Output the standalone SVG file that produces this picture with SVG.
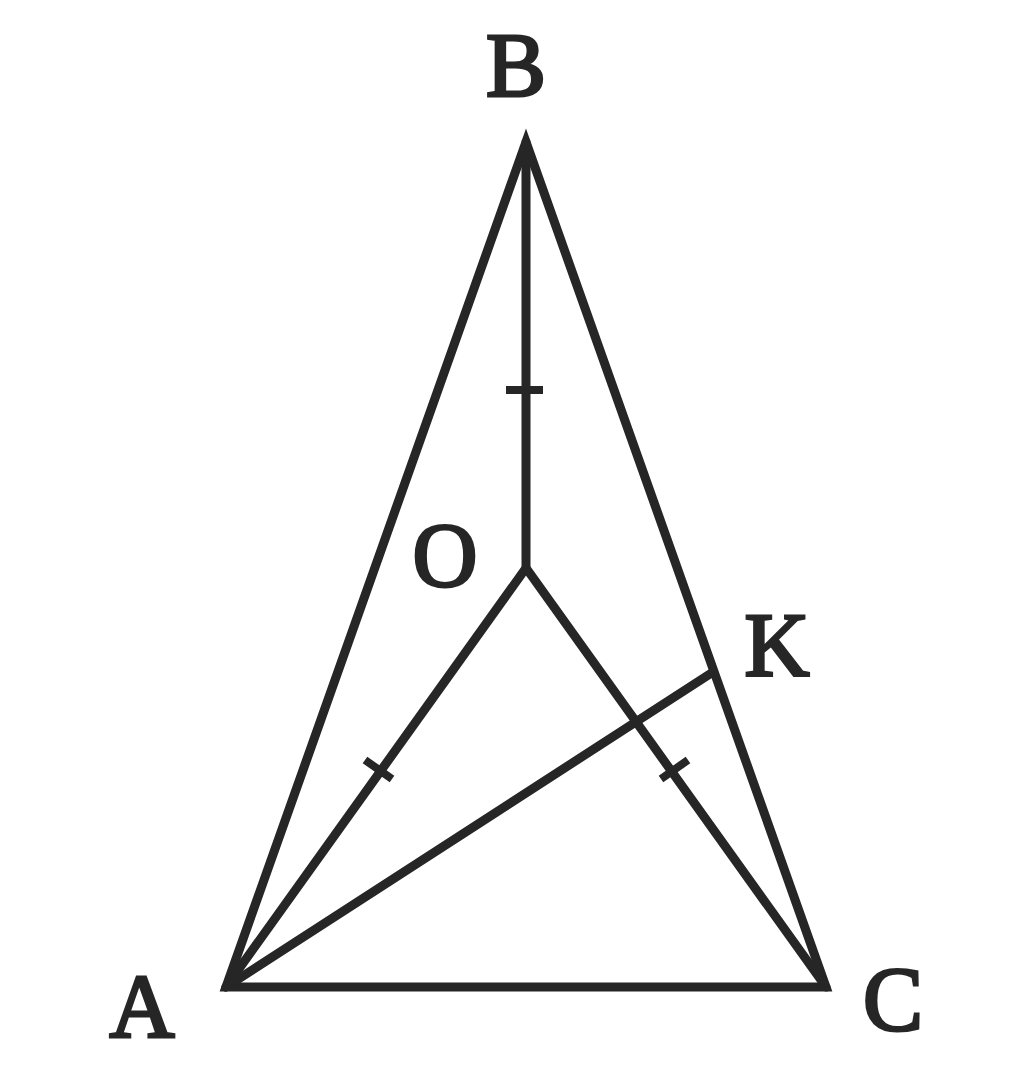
<svg xmlns="http://www.w3.org/2000/svg" width="1024" height="1085" viewBox="0 0 1024 1085">
<style>
.ln{stroke:#262626;stroke-width:9;fill:none;stroke-linejoin:miter;stroke-linecap:round}
.tk{stroke:#262626;stroke-width:8;fill:none;stroke-linecap:butt}
.lb{font-family:"Liberation Serif","Times New Roman",serif;font-size:90px;fill:#262626;text-anchor:middle;stroke:#262626;stroke-width:3}
</style>
<rect width="1024" height="1085" fill="#ffffff"/>
<g id="connectors">
<polygon class="ln" points="226,987 526,142 826,987" stroke-miterlimit="20"/>
<line class="ln" x1="526" y1="142" x2="526" y2="568"/>
<polyline class="ln" points="226,987 526,568 826,987" stroke-miterlimit="20"/>
<line class="ln" x1="226" y1="987" x2="713" y2="672"/>
<line class="tk" x1="506" y1="390" x2="543" y2="390"/>
<line class="tk" x1="365" y1="760" x2="392" y2="779"/>
<line class="tk" x1="661" y1="779" x2="688" y2="760"/>
</g>
<g id="node-B"><text class="lb" x="516" y="96">B</text></g>
<g id="node-O"><text class="lb" x="445" y="586">O</text></g>
<g id="node-K"><text class="lb" x="777" y="676">K</text></g>
<g id="node-A"><text class="lb" x="142" y="1037">A</text></g>
<g id="node-C"><text class="lb" x="893" y="1030">C</text></g>
</svg>
